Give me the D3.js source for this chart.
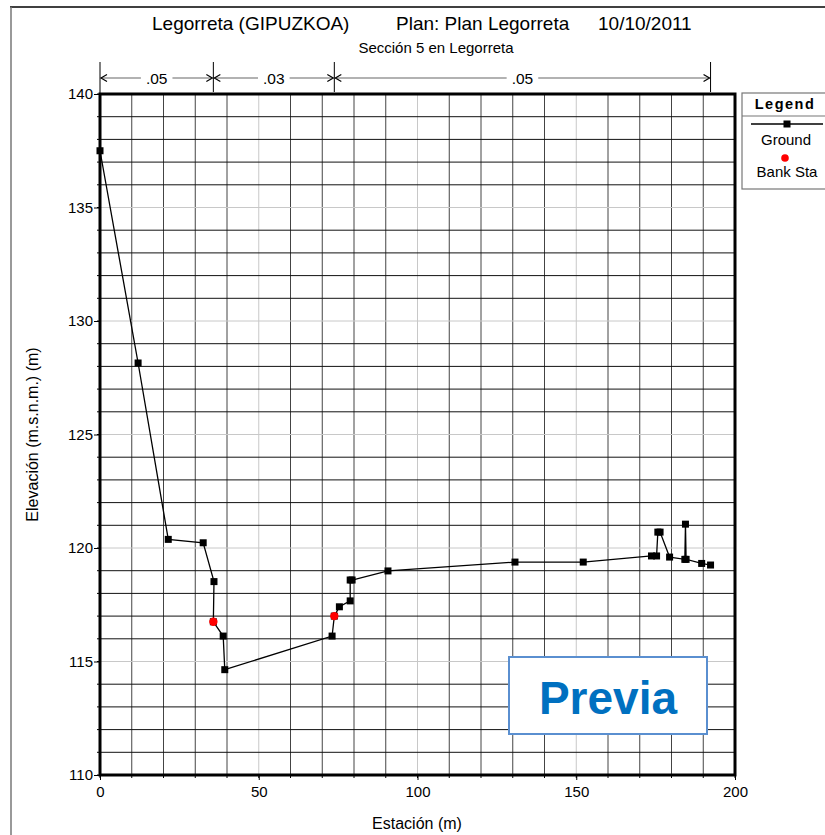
<!DOCTYPE html>
<html>
<head>
<meta charset="utf-8">
<script src="https://cdn.jsdelivr.net/npm/d3@7"></script>
<style>
  html, body { margin: 0; padding: 0; background: #fff; }
  svg { display: block; font-family: "Liberation Sans", Arial, sans-serif; }
</style>
</head>
<body>
<svg id="chart" width="825" height="835"></svg>
<script>
// Cross-section ground profile (station m, elevation m)
const groundStation = [0, 12.0, 21.5, 32.5, 35.9, 35.7, 38.8, 39.3, 73.1, 73.8, 75.4, 78.8, 78.8, 79.4, 90.7, 130.7, 152.2, 173.7, 175.3, 175.7, 176.4, 179.4, 184.2, 184.4, 184.6, 189.5, 192.3];
const groundElevation = [137.5, 128.15, 120.38, 120.23, 118.52, 116.75, 116.12, 114.64, 116.12, 117.0, 117.41, 117.67, 118.59, 118.59, 118.99, 119.38, 119.38, 119.65, 119.65, 120.7, 120.7, 119.6, 119.5, 121.05, 119.5, 119.32, 119.25];

// Bank stations
const bankStation = [35.7, 73.8];
const bankElevation = [116.75, 117.0];

// Manning's n regions
const nBreaks = [0, 35.7, 73.8, 192.3];
const nLabels = [".05", ".03", ".05"];

// Axis ticks
const xTicks = [0, 50, 100, 150, 200];
const yTicks = [110, 115, 120, 125, 130, 135, 140];

const titleParts = ["Legorreta (GIPUZKOA)", "Plan: Plan Legorreta", "10/10/2011"];
const subtitle = "Sección 5 en Legorreta";

const svg = d3.select("#chart");
const L = 100, R = 735, T = 94, B = 775;

const x = d3.scaleLinear().domain([0, 200]).range([L, R]);
const y = d3.scaleLinear().domain([110, 140]).range([B, T]);

// Outer frame
svg.append("line").attr("x1", 10).attr("x2", 825).attr("y1", 7).attr("y2", 7)
  .attr("stroke", "#000").attr("stroke-width", 1.5);
svg.append("line").attr("x1", 11).attr("x2", 11).attr("y1", 7).attr("y2", 835)
  .attr("stroke", "#777").attr("stroke-width", 1.5);

// Titles
const titleX = [152, 396, 598];
titleParts.forEach((t, i) => {
  svg.append("text").attr("x", titleX[i]).attr("y", 30)
    .attr("font-size", 19).attr("fill", "#000").text(t);
});
svg.append("text").attr("x", 436).attr("y", 53).attr("text-anchor", "middle")
  .attr("font-size", 15).text(subtitle);

// Grid
const grid = svg.append("g");
d3.range(0, 201, 10).forEach(v => {
  const major = v % 50 === 0;
  grid.append("line").attr("x1", x(v)).attr("x2", x(v)).attr("y1", T).attr("y2", B)
    .attr("stroke", major ? "#c8c8c8" : "#444").attr("stroke-width", 1);
});
d3.range(110, 141, 1).forEach(v => {
  const major = v % 5 === 0;
  grid.append("line").attr("x1", L).attr("x2", R).attr("y1", y(v)).attr("y2", y(v))
    .attr("stroke", major ? "#c8c8c8" : "#111").attr("stroke-width", 1);
});

// Axes
const yAxis = d3.axisLeft(y).tickValues(yTicks).tickSize(6).tickPadding(1).tickFormat(d3.format("d"));
const yg = svg.append("g").attr("transform", `translate(${L},0)`).call(yAxis);
const xAxis = d3.axisBottom(x).tickValues(xTicks).tickSize(5).tickPadding(6).tickFormat(d3.format("d"));
const xg = svg.append("g").attr("transform", `translate(0,${B})`).call(xAxis);
[yg, xg].forEach(g => {
  g.select(".domain").remove();
  g.selectAll("text").attr("font-size", 15).attr("font-family", "Liberation Sans, Arial, sans-serif").attr("fill", "#000");
  g.selectAll("line").attr("stroke", "#000");
});
// Minor ticks
svg.append("g").selectAll("line").data(d3.range(110, 141, 1)).join("line")
  .attr("x1", L - 3).attr("x2", L).attr("y1", d => y(d)).attr("y2", d => y(d)).attr("stroke", "#000");
svg.append("g").selectAll("line").data(d3.range(0, 201, 10)).join("line")
  .attr("x1", d => x(d)).attr("x2", d => x(d)).attr("y1", B).attr("y2", B + 3).attr("stroke", "#000");

// Plot border
svg.append("rect").attr("x", L).attr("y", T).attr("width", R - L).attr("height", B - T)
  .attr("fill", "none").attr("stroke", "#000").attr("stroke-width", 3);

// Axis titles
svg.append("text").attr("x", 417).attr("y", 829).attr("text-anchor", "middle")
  .attr("font-size", 16).text("Estación (m)");
svg.append("text").attr("transform", `translate(38,${(T + B) / 2}) rotate(-90)`)
  .attr("text-anchor", "middle").attr("font-size", 16).text("Elevación (m.s.n.m.) (m)");

// Manning's n dimension lines
const nY = 78;
const ng = svg.append("g");
nBreaks.forEach(b => {
  ng.append("line").attr("x1", x(b)).attr("x2", x(b)).attr("y1", 62).attr("y2", b === 0 ? T : 92)
    .attr("stroke", "#000").attr("stroke-width", 1);
});
nLabels.forEach((lab, i) => {
  const a = x(nBreaks[i]), b = x(nBreaks[i + 1]);
  const cx = (a + b) / 2;
  const t = ng.append("text").attr("x", cx).attr("y", nY + 6).attr("text-anchor", "middle")
    .attr("font-size", 15.5).text(lab);
  const w = t.node().getComputedTextLength() / 2 + 5;
  ng.append("line").attr("x1", a + 1).attr("x2", cx - w).attr("y1", nY).attr("y2", nY)
    .attr("stroke", "#666").attr("stroke-width", 1.2);
  ng.append("line").attr("x1", cx + w).attr("x2", b - 1).attr("y1", nY).attr("y2", nY)
    .attr("stroke", "#666").attr("stroke-width", 1.2);
  ng.append("path").attr("d", `M${a + 7},${nY - 3.5}L${a + 1},${nY}L${a + 7},${nY + 3.5}`)
    .attr("fill", "none").attr("stroke", "#000").attr("stroke-width", 1.2);
  ng.append("path").attr("d", `M${b - 7},${nY - 3.5}L${b - 1},${nY}L${b - 7},${nY + 3.5}`)
    .attr("fill", "none").attr("stroke", "#000").attr("stroke-width", 1.2);
});

// Ground line and points
const ground = groundStation.map((s, i) => [s, groundElevation[i]]);
svg.append("path").datum(ground)
  .attr("d", d3.line().x(d => x(d[0])).y(d => y(d[1])))
  .attr("fill", "none").attr("stroke", "#000").attr("stroke-width", 1.3);
svg.append("g").selectAll("rect").data(ground).join("rect")
  .attr("x", d => x(d[0]) - 3.5).attr("y", d => y(d[1]) - 3.5)
  .attr("width", 7).attr("height", 7).attr("fill", "#000");

// Bank stations
svg.append("g").selectAll("circle").data(bankStation.map((s, i) => [s, bankElevation[i]])).join("circle")
  .attr("cx", d => x(d[0])).attr("cy", d => y(d[1])).attr("r", 4.2).attr("fill", "#f00");

// Watermark box
svg.append("rect").attr("x", 509).attr("y", 657).attr("width", 198).attr("height", 77)
  .attr("fill", "#fff").attr("stroke", "#5a8fd0").attr("stroke-width", 2);
svg.append("text").attr("x", 608).attr("y", 714).attr("text-anchor", "middle")
  .attr("font-size", 46).attr("font-weight", "bold").attr("fill", "#0070c0").text("Previa");

// Legend
const lg = svg.append("g");
lg.append("rect").attr("x", 742).attr("y", 93).attr("width", 90).attr("height", 96)
  .attr("fill", "#fff").attr("stroke", "#777").attr("stroke-width", 1.2);
lg.append("line").attr("x1", 742).attr("x2", 832).attr("y1", 116).attr("y2", 116)
  .attr("stroke", "#777").attr("stroke-width", 1.2);
lg.append("text").attr("x", 785).attr("y", 109).attr("text-anchor", "middle")
  .attr("font-size", 14.5).attr("font-weight", "bold").attr("letter-spacing", 1.5).text("Legend");
lg.append("line").attr("x1", 751).attr("x2", 823).attr("y1", 124).attr("y2", 124)
  .attr("stroke", "#000").attr("stroke-width", 1.3);
lg.append("rect").attr("x", 787 - 3.5).attr("y", 124 - 3.5).attr("width", 7).attr("height", 7).attr("fill", "#000");
lg.append("text").attr("x", 786).attr("y", 145).attr("text-anchor", "middle")
  .attr("font-size", 15).text("Ground");
lg.append("circle").attr("cx", 785).attr("cy", 158).attr("r", 3.8).attr("fill", "#f00");
lg.append("text").attr("x", 787).attr("y", 177).attr("text-anchor", "middle")
  .attr("font-size", 15).text("Bank Sta");
</script>
</body>
</html>
